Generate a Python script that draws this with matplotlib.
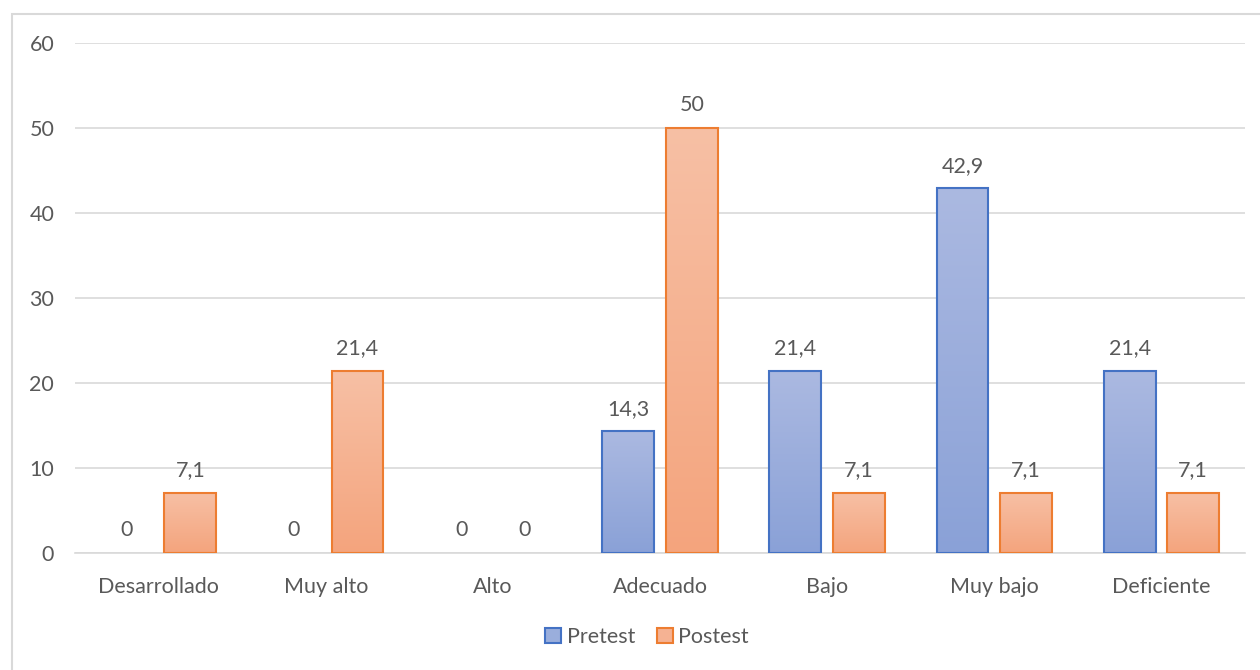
import matplotlib.pyplot as plt
import matplotlib.patches as mpatches
import numpy as np
from matplotlib.colors import LinearSegmentedColormap

categories = ['Desarrollado', 'Muy alto', 'Alto', 'Adecuado', 'Bajo', 'Muy bajo', 'Deficiente']
pretest = [0, 0, 0, 14.3, 21.4, 42.9, 21.4]
postest = [7.1, 21.4, 0, 50, 7.1, 7.1, 7.1]
series_names = ['Pretest', 'Postest']

plt.rcParams['font.family'] = ['Lato', 'DejaVu Sans']
text_col = '#595959'
fs = 15.5

fig = plt.figure(figsize=(12.6, 6.7), dpi=100)
ax = fig.add_axes([75 / 1260, 1 - 553 / 670, 1170 / 1260, 510 / 670])

# chart border
fig.patches.append(mpatches.Rectangle((12 / 1260, -0.05), 1.2, 1 - 14 / 670 + 0.05,
                                      transform=fig.transFigure, fill=False,
                                      edgecolor='#D9D9D9', linewidth=1.5))

x = np.arange(len(categories))
w = 0.31
off = 0.19

blue_cmap = LinearSegmentedColormap.from_list('b', ['#8AA1D7', '#ABB9E1'])
orange_cmap = LinearSegmentedColormap.from_list('o', ['#F4A47D', '#F7C0A5'])
grad = np.linspace(0, 1, 256).reshape(-1, 1)


def gradient_bars(xs, vals, cmap, edge):
    bars = ax.bar(xs, vals, w, facecolor='none', edgecolor=edge, linewidth=1.5, zorder=3)
    for b, v in zip(bars, vals):
        if v <= 0:
            b.set_edgecolor('none')
            continue
        x0, y0 = b.get_x(), b.get_y()
        im = ax.imshow(grad, cmap=cmap, origin='lower', aspect='auto',
                       extent=(x0, x0 + b.get_width(), y0, y0 + b.get_height()), zorder=2)
        im.set_clip_path(b)
    return bars


gradient_bars(x - off, pretest, blue_cmap, '#4472C4')
gradient_bars(x + off, postest, orange_cmap, '#ED7D31')

for xs, vals in ((x - off, pretest), (x + off, postest)):
    for xi, v in zip(xs, vals):
        lab = ('%g' % v).replace('.', ',')
        ax.text(xi, v + 1.5, lab, ha='center', va='bottom', fontsize=fs, color=text_col)

ax.set_xlim(-0.5, len(categories) - 0.5)
ax.set_ylim(0, 60)
ax.set_yticks(range(0, 61, 10))
ax.set_xticks(x)
ax.set_xticklabels(categories)
ax.yaxis.grid(True, color='#D9D9D9', linewidth=1.2)
ax.set_axisbelow(True)
for s in ('top', 'right', 'left'):
    ax.spines[s].set_visible(False)
ax.spines['bottom'].set_color('#D9D9D9')
ax.spines['bottom'].set_linewidth(1.2)
ax.tick_params(axis='both', length=0, labelsize=fs, labelcolor=text_col)
ax.tick_params(axis='y', pad=15)
ax.tick_params(axis='x', pad=17)

handles = [mpatches.Patch(facecolor='#9AAEDC', edgecolor='#4472C4', linewidth=1.5),
           mpatches.Patch(facecolor='#F5B293', edgecolor='#ED7D31', linewidth=1.5)]
leg = fig.legend(handles, series_names, loc='center', bbox_to_anchor=(647 / 1260, 1 - 637 / 670),
                 ncol=2, frameon=False, fontsize=fs, handlelength=0.75, handleheight=0.75,
                 handletextpad=0.25, columnspacing=1.0, labelcolor=text_col)

fig.savefig('out.png', dpi=100)
